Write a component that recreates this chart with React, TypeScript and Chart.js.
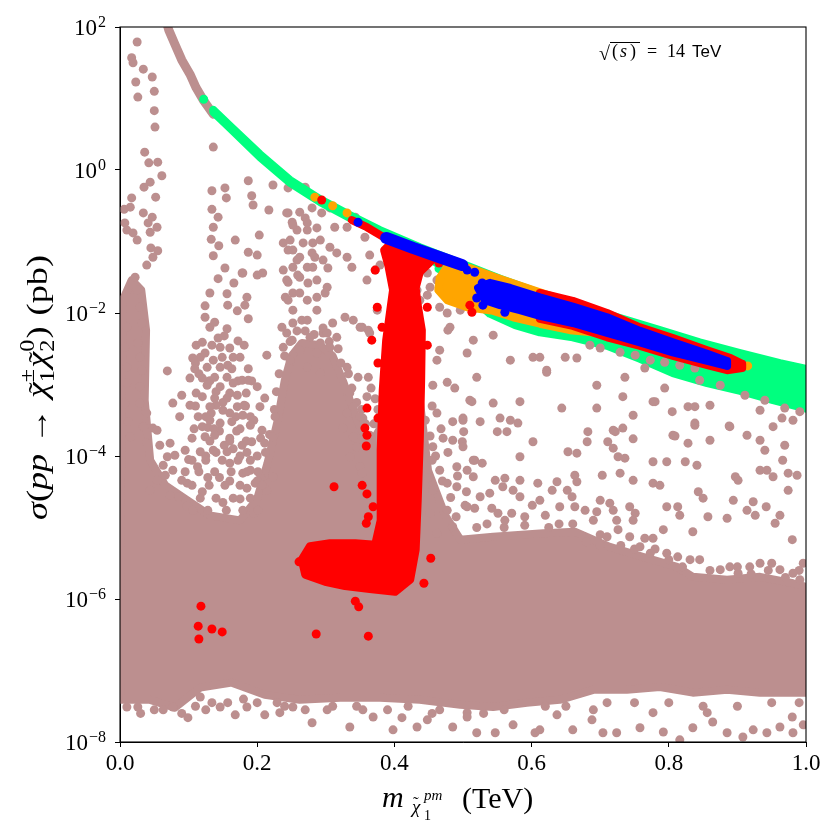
import React, { useEffect, useRef } from "react";
import { Chart, registerables } from "chart.js";

Chart.register(...registerables);

const SERIF = '"Liberation Serif", "DejaVu Serif", serif';
const SANS = '"Liberation Sans", "DejaVu Sans", sans-serif';

// axis ticks
const X_TICKS = [0, 0.2, 0.4, 0.6, 0.8, 1.0];
const Y_TICKS = [1e-8, 1e-6, 1e-4, 1e-2, 1, 1e2];
const Y_EXPONENTS = ["\u22128", "\u22126", "\u22124", "\u22122", "0", "2"];

// All pairs below: [chargino mass m (TeV), log10 of cross-section sigma (pb)]
type P = [number, number];

// dense core of the unconstrained (rosy-brown) scan, outline
const BROWN_DENSE: P[] = [
  [0, -7.41], [0.001, -4.69], [0.004, -1.82], [0.017, -1.54], [0.031, -1.68], [0.038, -2.24], [0.036, -3.22],
  [0.044, -4.06], [0.066, -4.41], [0.095, -4.6], [0.131, -4.83], [0.175, -4.9], [0.2, -4.6], [0.215, -4.1],
  [0.23, -3.5], [0.24, -2.95], [0.25, -2.6], [0.265, -2.42], [0.292, -2.45], [0.31, -2.6], [0.325, -2.95],
  [0.338, -3.3], [0.35, -3.6], [0.365, -3.85], [0.38, -3.6], [0.386, -3.22], [0.437, -3.22], [0.449, -4.2],
  [0.474, -4.83], [0.496, -5.17], [0.544, -5.13], [0.617, -5.08], [0.663, -5.06], [0.714, -5.27], [0.762, -5.41],
  [0.812, -5.55], [0.835, -5.69], [0.885, -5.73], [0.933, -5.69], [0.981, -5.78], [1.0, -5.83], [1.0, -7.31],
  [0.933, -7.31], [0.885, -7.27], [0.835, -7.31], [0.787, -7.23], [0.739, -7.27], [0.69, -7.27], [0.641, -7.41],
  [0.593, -7.45], [0.544, -7.51], [0.496, -7.48], [0.437, -7.41], [0.379, -7.38], [0.321, -7.38], [0.262, -7.41],
  [0.211, -7.34], [0.163, -7.17], [0.117, -7.24], [0.08, -7.52], [0.044, -7.41], [0, -7.41],
];

// scattered rosy-brown points
const BROWN_POINTS: P[] = [
  [0.025, 1.79], [0.017, 1.57], [0.019, 1.5], [0.034, 1.41], [0.047, 1.3], [0.023, 1.23], [0.05, 1.1], [0.026, 1.02], [0.05, 0.83], [0.051, 0.6],
  [0.036, 0.25], [0.042, 0.1], [0.055, 0.11], [0.061, -0.08], [0.044, -0.17], [0.035, -0.24], [0.017, -0.39], [0.052, -0.38], [0.006, -0.55], [0.015, -0.52],
  [0.034, -0.6], [0.047, -0.66], [0.041, -0.74], [0.054, -0.8], [0.01, -0.84], [0.019, -0.88], [0.025, -0.98], [0.045, -1.09], [0.055, -1.13], [0.048, -1.22],
  [0.039, -1.33], [0.007, -0.74], [0.044, -0.87],
  [0.136, 0.32], [0.134, -0.29], [0.153, -0.25], [0.155, -0.39], [0.187, -0.15], [0.192, -0.36], [0.194, -0.49], [0.217, -0.56], [0.223, -0.21], [0.134, -0.55],
  [0.143, -0.66], [0.136, -0.8], [0.133, -0.97], [0.144, -1.06], [0.168, -0.98], [0.203, -0.91], [0.187, -1.15], [0.136, -1.2], [0.153, -1.37], [0.179, -1.44],
  [0.2, -1.19], [0.208, -1.44], [0.245, -0.6], [0.251, -0.73], [0.258, -0.84], [0.27, -0.67], [0.273, -0.84], [0.281, -1.02], [0.238, -1.02], [0.245, -1.12],
  [0.262, -1.22], [0.252, -1.36], [0.273, -1.36], [0.284, -1.22], [0.143, -1.52], [0.166, -1.58], [0.131, -1.72], [0.156, -1.73], [0.185, -1.78], [0.2, -1.47],
  [0.178, -1.44], [0.182, -1.89], [0.171, -1.97], [0.124, -1.9], [0.157, -1.89], [0.124, -2.06], [0.131, -2.2], [0.138, -2.13], [0.156, -2.22], [0.152, -2.32],
  [0.187, -2.08], [0.172, -2.39], [0.12, -2.41], [0.143, -2.35], [0.146, -2.48], [0.16, -2.49], [0.165, -2.62], [0.106, -2.63], [0.124, -2.56], [0.136, -2.66],
  [0.146, -2.76], [0.157, -2.73], [0.127, -2.76], [0.12, -2.91], [0.102, -2.91], [0.138, -2.9], [0.156, -2.9], [0.146, -3.03], [0.165, -2.98], [0.127, -3.01],
  [0.12, -3.17], [0.138, -3.19], [0.156, -3.19], [0.171, -3.15], [0.131, -3.31], [0.15, -3.36], [0.171, -3.31], [0.114, -3.45], [0.131, -3.5], [0.146, -3.54],
  [0.12, -3.59], [0.163, -3.52], [0.105, -3.75], [0.124, -3.73], [0.138, -3.71], [0.16, -3.75], [0.095, -3.92], [0.117, -3.94], [0.136, -3.92], [0.156, -3.94],
  [0.087, -3.45], [0.077, -3.26], [0.069, -2.81], [0.09, -3.15], [0.178, -2.94], [0.187, -2.94], [0.179, -3.43], [0.19, -3.57], [0.2, -3.03], [0.214, -2.59],
  [0.211, -3.19], [0.204, -3.31], [0.226, -3.45], [0.207, -3.64], [0.222, -3.73], [0.192, -3.8], [0.178, -3.85], [0.211, -3.82], [0.179, -4.24], [0.197, -4.38],
  [0.223, -4.29], [0.214, -4.48], [0.073, -3.82], [0.069, -4.01], [0.063, -4.13], [0.077, -4.2], [0.098, -4.38], [0.085, -4.57], [0.054, -4.34], [0.044, -4.48],
  [0.105, -4.06], [0.125, -4.06], [0.149, -4.06], [0.172, -4.06], [0.19, -4.06], [0.095, -4.22], [0.115, -4.22], [0.138, -4.22], [0.162, -4.22], [0.185, -4.22],
  [0.201, -4.22], [0.105, -4.41], [0.13, -4.41], [0.153, -4.41], [0.175, -4.41], [0.207, -4.41], [0.117, -4.59], [0.14, -4.59], [0.165, -4.59], [0.19, -4.59],
  [0.106, -4.76], [0.128, -4.76], [0.155, -4.76], [0.179, -4.76], [0.201, -4.76], [0.058, -3.85], [0.08, -3.99], [0.066, -4.27], [0.09, -4.34], [0.073, -4.55],
  [0.022, -1.5], [0.025, -1.68], [0.029, -1.92], [0.032, -2.14], [0.01, -2.2], [0.007, -2.48], [0.026, -2.42], [0.029, -2.62], [0.01, -2.76], [0.032, -2.8],
  [0.01, -2.98], [0.029, -3.03], [0.007, -3.26], [0.029, -3.26], [0.039, -3.4], [0.012, -3.52], [0.034, -3.59], [0.048, -3.61], [0.015, -3.73], [0.039, -3.82], [0.054, -3.64],
  [0.245, -1.57], [0.259, -1.47], [0.241, -1.78], [0.252, -1.96], [0.265, -2.1], [0.243, -2.28], [0.238, -2.48], [0.252, -1.72], [0.273, -1.82], [0.274, -1.58],
  [0.299, -1.72], [0.287, -1.96], [0.296, -2.21], [0.31, -2.14], [0.292, -2.42], [0.316, -2.34], [0.34, -2.1], [0.353, -2.2], [0.331, -2.76], [0.347, -2.9],
  [0.36, -3.17], [0.34, -3.31], [0.354, -3.47], [0.331, -3.4], [0.34, -3.73], [0.335, -4.01], [0.35, -4.15], [0.362, -2.9], [0.362, -2.24], [0.375, -1.96],
  [0.245, -0.25], [0.27, -0.24], [0.243, -0.6], [0.262, -0.59], [0.28, -0.53], [0.294, -0.6], [0.306, -0.53], [0.252, -0.77], [0.273, -0.74], [0.287, -0.81],
  [0.313, -0.8], [0.331, -0.8], [0.343, -0.66], [0.357, -0.94], [0.248, -0.98], [0.267, -1.02], [0.292, -0.98], [0.306, -1.08], [0.316, -1.16], [0.252, -1.12],
  [0.28, -1.16], [0.296, -1.26], [0.331, -1.22], [0.338, -1.36], [0.303, -1.37], [0.281, -1.36], [0.258, -1.26], [0.238, -1.4], [0.262, -1.5], [0.243, -1.54],
  [0.287, -1.54], [0.302, -1.64], [0.262, -1.72], [0.287, -1.78], [0.245, -1.82], [0.328, -2.06], [0.35, -2.2], [0.364, -2.28], [0.372, -1.4], [0.36, -1.54],
  [0.379, -1.33], [0.364, -1.19], [0.236, -2.2], [0.252, -2.14], [0.273, -2.1], [0.251, -2.38], [0.277, -2.34], [0.302, -2.28], [0.306, -2.48], [0.262, -2.52],
  [0.287, -2.56], [0.248, -2.66], [0.273, -2.76], [0.292, -2.84],
  [0.448, -1.44], [0.462, -1.54], [0.452, -1.64], [0.471, -1.68], [0.433, -1.68], [0.437, -1.82], [0.466, -1.92], [0.448, -1.75], [0.481, -2.2], [0.477, -2.0],
  [0.496, -1.96], [0.515, -2.38], [0.506, -2.56], [0.466, -2.52], [0.462, -2.66], [0.569, -2.66], [0.602, -2.62], [0.622, -2.8], [0.544, -2.31], [0.52, -2.9], [0.478, -2.24],
  [0.612, -2.62], [0.649, -2.62], [0.666, -2.63], [0.622, -2.83], [0.695, -3.01], [0.736, -2.9], [0.733, -3.17], [0.777, -3.24], [0.794, -3.05], [0.644, -3.33],
  [0.695, -3.33], [0.748, -3.43], [0.805, -3.38], [0.828, -3.31], [0.838, -3.31], [0.86, -3.29], [0.838, -3.54], [0.889, -3.59], [0.806, -3.71], [0.719, -3.64],
  [0.682, -3.66], [0.914, -3.71], [0.952, -3.59], [0.981, -3.5],
  [0.513, -3.24], [0.544, -3.26], [0.583, -3.24], [0.78, -3.24], [0.5, -3.47], [0.525, -3.52], [0.554, -3.47], [0.569, -3.5], [0.58, -3.54], [0.55, -3.66],
  [0.564, -3.66], [0.722, -3.66], [0.733, -3.61], [0.748, -3.76], [0.809, -3.72], [0.838, -3.57], [0.888, -3.58], [0.933, -3.78], [0.965, -3.47], [0.969, -3.85],
  [0.602, -3.8], [0.681, -3.8], [0.711, -3.8], [0.828, -3.82], [0.86, -3.78], [0.94, -3.92], [0.966, -4.06], [0.501, -3.66], [0.499, -3.8], [0.583, -4.01],
  [0.653, -3.94], [0.666, -3.96], [0.719, -3.89], [0.726, -4.01], [0.736, -4.03], [0.777, -4.08], [0.797, -4.08], [0.824, -4.08], [0.841, -4.13], [0.933, -4.2],
  [0.943, -4.2], [0.952, -4.29], [0.974, -4.24], [0.987, -4.27], [0.517, -4.06], [0.528, -4.1], [0.506, -4.2], [0.515, -4.29], [0.547, -4.34], [0.561, -4.31],
  [0.583, -4.34], [0.609, -4.38], [0.637, -4.36], [0.663, -4.27], [0.666, -4.36], [0.703, -4.27], [0.729, -4.24], [0.748, -4.34], [0.777, -4.38], [0.787, -4.41],
  [0.843, -4.5], [0.85, -4.59], [0.897, -4.29], [0.901, -4.34], [0.974, -4.48], [0.923, -4.64], [0.894, -4.62], [0.885, -4.87], [0.914, -4.76], [0.942, -4.71],
  [0.962, -4.83], [0.98, -5.17], [0.955, -4.94], [0.926, -4.83], [0.857, -4.85], [0.835, -5.06], [0.797, -4.71], [0.813, -4.71], [0.816, -4.83], [0.792, -5.03],
  [0.777, -5.15], [0.765, -5.15], [0.743, -4.71], [0.751, -4.8], [0.748, -4.9], [0.714, -4.66], [0.7, -4.62], [0.719, -4.76], [0.724, -4.9], [0.726, -5.03],
  [0.743, -5.13], [0.7, -5.1], [0.71, -5.13], [0.69, -4.9], [0.695, -4.78], [0.678, -4.76], [0.659, -4.57], [0.663, -4.71], [0.641, -4.71], [0.652, -4.48],
  [0.63, -4.48], [0.62, -4.83], [0.612, -4.62], [0.601, -4.69], [0.583, -4.57], [0.573, -4.48], [0.558, -4.43], [0.539, -4.52], [0.525, -4.57], [0.503, -4.69],
  [0.517, -4.73], [0.542, -4.73], [0.551, -4.8], [0.571, -4.8], [0.59, -4.85], [0.561, -4.9], [0.758, -5.27], [0.773, -5.36], [0.797, -5.36], [0.813, -5.41],
  [0.831, -5.45], [0.845, -5.45], [0.875, -5.59], [0.889, -5.55], [0.901, -5.64], [0.918, -5.55], [0.933, -5.5], [0.95, -5.5], [0.962, -5.59], [0.981, -5.64],
  [0.991, -5.73], [0.996, -5.5],
  [0.506, -7.59], [0.52, -7.87], [0.547, -7.87], [0.573, -7.76], [0.605, -7.87], [0.612, -7.83], [0.637, -7.62], [0.66, -7.83], [0.688, -7.69], [0.704, -7.87],
  [0.724, -7.87], [0.758, -7.8], [0.792, -7.86], [0.816, -7.97], [0.835, -7.8], [0.856, -7.59], [0.885, -7.87], [0.908, -7.93], [0.923, -7.83], [0.943, -7.87],
  [0.962, -7.79], [0.98, -7.65], [0.981, -7.87], [0.996, -7.76], [0.864, -7.72], [0.777, -7.59], [0.69, -7.55], [0.01, -7.51], [0.026, -7.51], [0.063, -7.55],
  [0.077, -7.51], [0.099, -7.66], [0.117, -7.37], [0.134, -7.45], [0.146, -7.51], [0.168, -7.62], [0.157, -7.45], [0.211, -7.62], [0.229, -7.45], [0.252, -7.51],
  [0.28, -7.73], [0.302, -7.55], [0.335, -7.79], [0.354, -7.55], [0.369, -7.65], [0.398, -7.83], [0.411, -7.66], [0.433, -7.79], [0.448, -7.69], [0.466, -7.55],
  [0.485, -7.79], [0.506, -7.65], [0.185, -7.51], [0.233, -7.59],
  [0.456, -3.01], [0.477, -2.97], [0.488, -3.05], [0.51, -3.22], [0.462, -3.4], [0.485, -3.52], [0.5, -3.5], [0.471, -3.75], [0.456, -3.87], [0.485, -3.78],
  [0.5, -3.87], [0.515, -4.06], [0.455, -4.06], [0.466, -4.2], [0.491, -4.15], [0.477, -4.38], [0.456, -4.48], [0.491, -4.43], [0.452, -4.8], [0.477, -4.76],
  [0.506, -4.71], [0.485, -4.99], [0.462, -5.08], [0.335, -3.12], [0.35, -3.45], [0.325, -3.61], [0.364, -3.71], [0.345, -3.87], [0.353, -4.24],
];

// rosy-brown points along the ragged edges of the dense core and in the m~0.1-0.2 TeV cloud
const BROWN_FRINGE: P[] = [
  [0.205, -4.3], [0.212, -3.95], [0.218, -3.7], [0.225, -3.35], [0.228, -3.1], [0.232, -2.85], [0.24, -2.6], [0.248, -2.4],
  [0.258, -2.25], [0.27, -2.25], [0.283, -2.3], [0.296, -2.28], [0.305, -2.4], [0.318, -2.5], [0.322, -2.7], [0.333, -2.85],
  [0.338, -3.05], [0.345, -3.25], [0.352, -3.35], [0.358, -3.55], [0.37, -3.55], [0.376, -3.35], [0.372, -3.2], [0.366, -3.05],
  [0.445, -3.5], [0.452, -3.72], [0.46, -4.0], [0.47, -4.35], [0.482, -4.58], [0.49, -4.85], [0.455, -3.3], [0.468, -3.62],
  [0.478, -3.95], [0.492, -4.28], [0.505, -4.5], [0.442, -3.9], [0.45, -4.3],
  [0.52, -5.0], [0.535, -4.95], [0.56, -5.0], [0.59, -4.97], [0.625, -5.0], [0.64, -4.95], [0.66, -4.95], [0.68, -5.2],
  [0.7, -5.25], [0.73, -5.25], [0.75, -5.3], [0.78, -5.3], [0.8, -5.45], [0.82, -5.55], [0.86, -5.6], [0.9, -5.55],
  [0.92, -5.65], [0.945, -5.6], [0.97, -5.7], [0.99, -5.6],
  [0.11, -2.7], [0.115, -2.85], [0.13, -2.95], [0.14, -3.1], [0.15, -3.25], [0.16, -3.4], [0.133, -3.4], [0.145, -3.65],
  [0.11, -3.3], [0.128, -3.6], [0.152, -3.85], [0.165, -3.9], [0.175, -4.0], [0.185, -3.95], [0.1, -4.05], [0.113, -4.15],
  [0.128, -4.3], [0.145, -4.3], [0.16, -4.35], [0.185, -4.45], [0.2, -4.35], [0.12, -4.5], [0.098, -4.7], [0.15, -4.65],
  [0.175, -4.6], [0.195, -4.8], [0.17, -3.65], [0.183, -3.3], [0.195, -3.5], [0.205, -3.75], [0.2, -4.0], [0.19, -4.2],
  [0.16, -4.1], [0.14, -3.95], [0.125, -4.0],
  [0.111, -2.45], [0.134, -2.45], [0.181, -2.45], [0.117, -2.62], [0.149, -2.62], [0.175, -2.62], [0.109, -2.78], [0.163, -2.78],
  [0.187, -2.78], [0.131, -2.95], [0.172, -2.95], [0.192, -2.95], [0.111, -3.12], [0.16, -3.12], [0.184, -3.12], [0.102, -3.29],
  [0.14, -3.29], [0.181, -3.29], [0.125, -3.45], [0.169, -3.45], [0.19, -3.45], [0.108, -3.62], [0.137, -3.62], [0.175, -3.62],
  [0.131, -3.79], [0.16, -3.79], [0.184, -3.79],
  [0.03, -7.6], [0.05, -7.55], [0.09, -7.6], [0.11, -7.5], [0.125, -7.55], [0.18, -7.4], [0.2, -7.45], [0.24, -7.5],
  [0.27, -7.55], [0.31, -7.5], [0.345, -7.5], [0.39, -7.55], [0.42, -7.5], [0.455, -7.6], [0.53, -7.6], [0.56, -7.55],
  [0.62, -7.5], [0.65, -7.5], [0.71, -7.45], [0.75, -7.45], [0.8, -7.45], [0.85, -7.5], [0.9, -7.5], [0.95, -7.45], [0.99, -7.45],
];

// rosy-brown points seen on top of the green band
const BROWN_IN_BAND: P[] = [
  [0.729, -2.55], [0.751, -2.59], [0.773, -2.66], [0.794, -2.69], [0.816, -2.73], [0.838, -2.77], [0.765, -2.77], [0.845, -2.94],
  [0.875, -3.01], [0.911, -3.15], [0.94, -3.22], [0.969, -3.33], [0.991, -3.38], [0.933, -3.36], [0.7, -2.49], [0.685, -2.45],
];

// rosy-brown upper-left branch of the cross-section curve
const BROWN_CURVE: P[] = [
  [0.067, 2.1], [0.071, 1.96], [0.08, 1.76], [0.09, 1.54], [0.102, 1.34], [0.111, 1.15], [0.122, 0.97], [0.136, 0.78],
];

// spring-green band outline
const GREEN_BAND: P[] = [
  [0.136, 0.84], [0.16, 0.62], [0.204, 0.22], [0.248, -0.14], [0.292, -0.41], [0.335, -0.63], [0.379, -0.84], [0.437, -1.08],
  [0.496, -1.3], [0.554, -1.52], [0.612, -1.72], [0.671, -1.9], [0.729, -2.07], [0.787, -2.24], [0.845, -2.41], [0.904, -2.56],
  [0.962, -2.7], [1.009, -2.8], [1.009, -3.36], [0.952, -3.22], [0.904, -3.09], [0.856, -2.98], [0.806, -2.84], [0.758, -2.64],
  [0.71, -2.46], [0.66, -2.34], [0.612, -2.27], [0.576, -2.17], [0.539, -2.01], [0.51, -1.76], [0.484, -1.45], [0.437, -1.14],
  [0.379, -0.89], [0.335, -0.67], [0.292, -0.45], [0.248, -0.18], [0.204, 0.18], [0.16, 0.59], [0.136, 0.81], [0.136, 0.84],
];
const GREEN_POINTS: P[] = [[0.122, 0.99], [0.465, -1.38]];

// orange
const ORANGE_AREA: P[] = [
  [0.478, -1.34], [0.51, -1.37], [0.547, -1.5], [0.612, -1.71], [0.7, -1.99], [0.715, -2.2], [0.7, -2.28], [0.656, -2.24],
  [0.612, -2.15], [0.573, -2.06], [0.544, -1.97], [0.506, -1.92], [0.477, -1.82], [0.464, -1.68], [0.466, -1.51], [0.478, -1.34],
];
const ORANGE_POINTS: P[] = [[0.284, -0.38], [0.31, -0.5], [0.331, -0.6], [0.915, -2.74]];

// red
const RED_J: P[] = [
  [0.397, -1.01], [0.423, -1.06], [0.449, -1.15], [0.455, -1.26], [0.437, -1.43], [0.431, -1.65], [0.434, -1.89], [0.44, -2.24],
  [0.439, -2.94], [0.437, -3.78], [0.434, -4.62], [0.431, -5.31], [0.423, -5.73], [0.401, -5.9], [0.364, -5.86], [0.328, -5.82],
  [0.299, -5.76], [0.27, -5.66], [0.265, -5.45], [0.277, -5.26], [0.306, -5.22], [0.343, -5.22], [0.372, -5.24], [0.38, -4.9],
  [0.38, -3.92], [0.383, -3.08], [0.388, -2.38], [0.394, -1.96], [0.398, -1.68], [0.391, -1.33], [0.385, -1.12], [0.397, -1.01],
];
const RED_EDGE: P[] = [
  [0.612, -1.72], [0.66, -1.83], [0.71, -2.0], [0.758, -2.2], [0.806, -2.35], [0.856, -2.52], [0.89, -2.63], [0.907, -2.71],
  [0.907, -2.77], [0.885, -2.8], [0.856, -2.73], [0.806, -2.6], [0.758, -2.46], [0.71, -2.34], [0.66, -2.18], [0.612, -2.08], [0.612, -1.72],
];
const RED_TOP: P[] = [[0.338, -0.7], [0.36, -0.8], [0.386, -0.95]];
const RED_POINTS: P[] = [
  [0.294, -0.42], [0.372, -1.4], [0.375, -1.92], [0.382, -2.2], [0.367, -2.38], [0.376, -2.7], [0.448, -1.92], [0.448, -2.45],
  [0.357, -3.61], [0.36, -3.71], [0.359, -3.86], [0.36, -3.33], [0.376, -3.47], [0.312, -4.43], [0.353, -4.41], [0.36, -4.53],
  [0.369, -4.71], [0.362, -4.85], [0.359, -4.94], [0.453, -5.43], [0.443, -5.78], [0.343, -6.03], [0.348, -6.11], [0.261, -5.48],
  [0.118, -6.1], [0.114, -6.38], [0.134, -6.42], [0.149, -6.46], [0.115, -6.56], [0.286, -6.49], [0.362, -6.52], [0.51, -1.89],
  [0.513, -1.99], [0.465, -1.3],
];

// blue
const BLUE_STREAK: P[] = [[0.388, -0.95], [0.427, -1.09], [0.466, -1.22], [0.499, -1.33]];
const BLUE_AREA: P[] = [
  [0.539, -1.58], [0.569, -1.65], [0.612, -1.78], [0.66, -1.91], [0.71, -2.06], [0.758, -2.25], [0.806, -2.41], [0.856, -2.57],
  [0.885, -2.67], [0.885, -2.74], [0.856, -2.67], [0.806, -2.55], [0.758, -2.41], [0.71, -2.28], [0.66, -2.14], [0.612, -2.04],
  [0.583, -1.96], [0.554, -1.89], [0.532, -1.82], [0.522, -1.65], [0.539, -1.58],
];
const BLUE_POINTS: P[] = [[0.347, -0.73], [0.506, -1.4], [0.517, -1.43], [0.528, -1.58], [0.52, -1.79], [0.529, -1.89], [0.561, -1.99]];

const C_BROWN = "#bc8f8f";
const C_GREEN = "#00ff7f";
const C_ORANGE = "#ffa500";
const C_RED = "#ff0000";
const C_BLUE = "#0000ff";

const toXY = (pts: P[]) => pts.map(([m, l]) => ({ x: m, y: Math.pow(10, l) }));

const area = (label: string, pts: P[], color: string, order: number, width = 8) => ({
  type: "line",
  label,
  data: toXY(pts),
  borderColor: color,
  backgroundColor: color,
  borderWidth: width,
  borderJoinStyle: "round",
  borderCapStyle: "round",
  fill: "shape",
  pointRadius: 0,
  pointHoverRadius: 0,
  tension: 0,
  order,
  clip: 0,
});

const stroke = (label: string, pts: P[], color: string, order: number, width: number) => ({
  type: "line",
  label,
  data: toXY(pts),
  borderColor: color,
  backgroundColor: color,
  borderWidth: width,
  borderJoinStyle: "round",
  borderCapStyle: "round",
  fill: false,
  pointRadius: 0,
  pointHoverRadius: 0,
  tension: 0,
  order,
  clip: 0,
});

const dots = (label: string, pts: P[], color: string, order: number) => ({
  type: "scatter",
  label,
  data: toXY(pts),
  backgroundColor: color,
  borderColor: color,
  borderWidth: 0,
  pointRadius: 4.5,
  pointHoverRadius: 4.5,
  showLine: false,
  order,
  clip: 0,
});

type Piece = { t: string; f: string; dy: number; t2?: string; f2?: string; dy2?: number; tilde?: boolean; gap?: number };

const decorPlugin = {
  id: "decor",
  afterDraw(chart: any) {
    const { ctx, chartArea: a } = chart;
    const ys = chart.scales.y;
    ctx.save();
    ctx.strokeStyle = "#000";
    ctx.lineWidth = 1.1;
    ctx.strokeRect(a.left, a.top, a.right - a.left, a.bottom - a.top);

    ctx.fillStyle = "#000";
    ctx.textAlign = "left";
    ctx.textBaseline = "alphabetic";
    // y tick labels 10^n
    Y_TICKS.forEach((v, i) => {
      const py = ys.getPixelForValue(v);
      const sup = Y_EXPONENTS[i];
      ctx.font = `16px ${SERIF}`;
      const ws = ctx.measureText(sup).width;
      ctx.font = `23px ${SERIF}`;
      const wb = ctx.measureText("10").width;
      const right = a.left - 14;
      ctx.fillText("10", right - ws - wb - 1, py + 8);
      ctx.font = `16px ${SERIF}`;
      ctx.fillText(sup, right - ws, py);
    });

    // x axis title
    ctx.font = `italic 30px ${SERIF}`;
    ctx.fillText("m", 382, 807);
    ctx.font = `italic 19px ${SERIF}`;
    ctx.fillText("\u03c7", 412, 813);
    ctx.font = `17px ${SERIF}`;
    ctx.fillText("\u02dc", 413, 808);
    ctx.font = `14px ${SERIF}`;
    ctx.fillText("1", 424, 820);
    ctx.font = `italic 15px ${SERIF}`;
    ctx.fillText("pm", 424, 800);
    ctx.font = `30px ${SERIF}`;
    ctx.fillText("(TeV)", 462, 808);

    // y axis title (rotated, flowed along the text direction)
    const B = `30px ${SERIF}`;
    const BI = `italic 30px ${SERIF}`;
    const S = `20px ${SERIF}`;
    const pieces: Piece[] = [
      { t: "\u03c3", f: BI, dy: 0 },
      { t: "(", f: B, dy: 0 },
      { t: "pp", f: BI, dy: 0, gap: 8 },
      { t: "\u2192", f: B, dy: 0, gap: 8 },
      { t: "\u03c7", f: BI, dy: 0, tilde: true },
      { t: "1", f: S, dy: 7, t2: "\u00b1", f2: S, dy2: -13, gap: 1 },
      { t: "\u03c7", f: BI, dy: 0, tilde: true },
      { t: "2", f: S, dy: 7, t2: "0", f2: S, dy2: -13, gap: 1 },
      { t: ")", f: B, dy: 0, gap: 9 },
      { t: "(pb)", f: B, dy: 0 },
    ];
    const widthOf = (p: Piece) => {
      ctx.font = p.f;
      let w = ctx.measureText(p.t).width;
      if (p.t2 && p.f2) {
        ctx.font = p.f2;
        w = Math.max(w, ctx.measureText(p.t2).width);
      }
      return w + (p.gap || 0);
    };
    const total = pieces.reduce((s, p) => s + widthOf(p), 0);
    const k = Math.max(0.85, Math.min(1.25, 265 / total));
    ctx.save();
    ctx.translate(47, 520);
    ctx.rotate(-Math.PI / 2);
    ctx.scale(k, 1);
    let xx = 0;
    for (const p of pieces) {
      const w = widthOf(p);
      ctx.font = p.f;
      ctx.fillText(p.t, xx, p.dy);
      if (p.tilde) {
        const cw = ctx.measureText(p.t).width;
        ctx.font = `26px ${SERIF}`;
        const tw = ctx.measureText("\u02dc").width;
        ctx.fillText("\u02dc", xx + (cw - tw) / 2 + 2, -1);
      }
      if (p.t2 && p.f2) {
        ctx.font = p.f2;
        ctx.fillText(p.t2, xx, p.dy2 || 0);
      }
      xx += w;
    }
    ctx.restore();

    // energy annotation
    ctx.font = `20px ${SERIF}`;
    ctx.fillText("\u221a", 599, 60);
    ctx.lineWidth = 1;
    ctx.beginPath();
    ctx.moveTo(610, 42.5);
    ctx.lineTo(640, 42.5);
    ctx.stroke();
    ctx.font = `18px ${SERIF}`;
    ctx.fillText("(", 612, 57);
    ctx.font = `italic 18px ${SERIF}`;
    ctx.fillText("s", 620, 57);
    ctx.font = `18px ${SERIF}`;
    ctx.fillText(")", 630, 57);
    ctx.fillText("=", 647, 57);
    ctx.fillText("14", 667, 57);
    ctx.font = `17px ${SANS}`;
    ctx.fillText("TeV", 692, 57);
    ctx.restore();
  },
};

export default function App() {
  const ref = useRef<HTMLCanvasElement | null>(null);
  useEffect(() => {
    if (!ref.current) return;
    const chart = new Chart(ref.current, {
      type: "scatter",
      data: {
        datasets: [
          area("brown dense", BROWN_DENSE, C_BROWN, 100),
          dots("brown", BROWN_POINTS, C_BROWN, 90),
          dots("brown fringe", BROWN_FRINGE, C_BROWN, 90),
          stroke("brown curve", BROWN_CURVE, C_BROWN, 90, 9),
          area("green", GREEN_BAND, C_GREEN, 80),
          dots("green pts", GREEN_POINTS, C_GREEN, 79),
          dots("brown in band", BROWN_IN_BAND, C_BROWN, 75),
          area("orange", ORANGE_AREA, C_ORANGE, 70),
          dots("orange pts", ORANGE_POINTS, C_ORANGE, 69),
          area("red J", RED_J, C_RED, 60),
          area("red edge", RED_EDGE, C_RED, 60),
          stroke("red top", RED_TOP, C_RED, 60, 8),
          dots("red pts", RED_POINTS, C_RED, 59),
          stroke("blue streak", BLUE_STREAK, C_BLUE, 50, 12),
          area("blue", BLUE_AREA, C_BLUE, 50),
          dots("blue pts", BLUE_POINTS, C_BLUE, 49),
        ] as any,
      },
      options: {
        animation: false,
        responsive: true,
        maintainAspectRatio: false,
        events: [],
        layout: { padding: { left: 0, right: 34, top: 27, bottom: 0 } },
        plugins: { legend: { display: false }, tooltip: { enabled: false } },
        scales: {
          x: {
            type: "linear",
            min: 0,
            max: 1,
            afterBuildTicks: (s: any) => {
              s.ticks = X_TICKS.map((v) => ({ value: v }));
            },
            afterFit: (s: any) => {
              s.height = 98;
            },
            ticks: {
              autoSkip: false,
              maxRotation: 0,
              padding: 3,
              color: "#000",
              font: { family: SERIF, size: 23 },
              callback: (v: any) => Number(v).toFixed(1),
            },
            grid: { display: true, drawOnChartArea: false, drawTicks: true, tickLength: 5, color: "#000", lineWidth: 1 },
            border: { display: true, color: "#000", width: 1 },
          },
          y: {
            type: "logarithmic",
            min: 1e-8,
            max: 1e2,
            afterBuildTicks: (s: any) => {
              s.ticks = Y_TICKS.map((v) => ({ value: v }));
            },
            afterFit: (s: any) => {
              s.width = 120;
            },
            ticks: { display: false },
            grid: { display: true, drawOnChartArea: false, drawTicks: true, tickLength: 5, color: "#000", lineWidth: 1 },
            border: { display: true, color: "#000", width: 1 },
          },
        },
      } as any,
      plugins: [decorPlugin],
    });
    return () => chart.destroy();
  }, []);
  return (
    <div style={{ position: "absolute", left: 0, top: 0, width: 840, height: 840, background: "#fff" }}>
      <canvas ref={ref} />
    </div>
  );
}
